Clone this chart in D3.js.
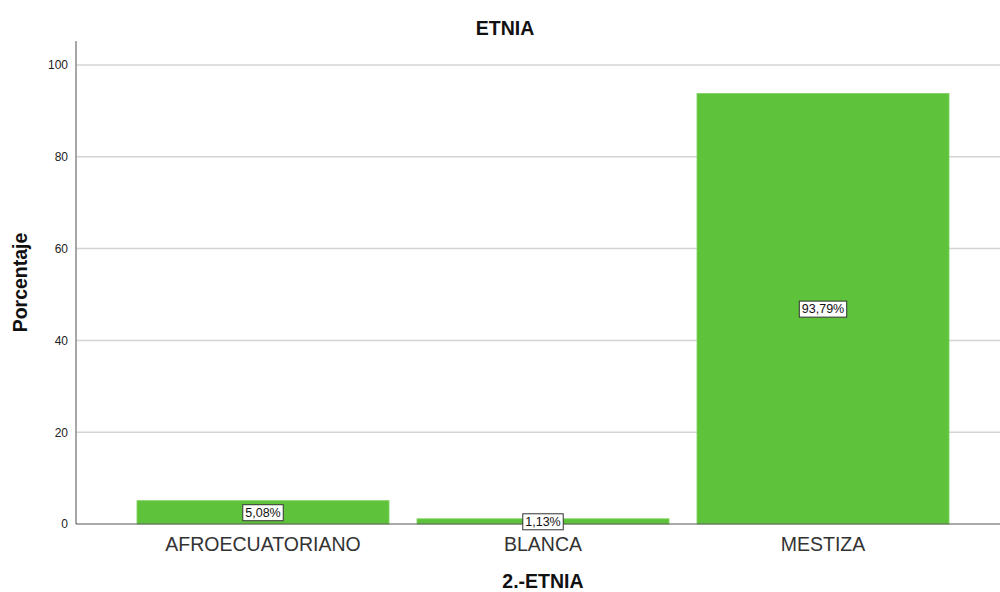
<!DOCTYPE html>
<html>
<head>
<meta charset="utf-8">
<script src="https://cdn.jsdelivr.net/npm/d3@7"></script>
<style>
  html, body { margin: 0; padding: 0; background: #fff; }
  svg { display: block; font-family: "Liberation Sans", Arial, sans-serif; }
</style>
</head>
<body>
<svg id="chart" width="1000" height="592"></svg>
<script>
// Ethnicity distribution (percent of respondents)
const categories = ["AFROECUATORIANO", "BLANCA", "MESTIZA"];
const percentages = [5.08, 1.13, 93.79];
const yTicks = [0, 20, 40, 60, 80, 100];

const svg = d3.select("#chart");
const axisLeft = 76, axisRight = 1000, baseY = 524, topY = 41;

const y = d3.scaleLinear().domain([0, 100]).range([baseY, 65]);
const x = d3.scaleBand()
  .domain(categories)
  .range([123, 963])
  .paddingInner(0.1)
  .paddingOuter(0.05);

// horizontal gridlines
svg.append("g")
  .selectAll("line")
  .data(yTicks.filter(t => t > 0))
  .join("line")
  .attr("x1", axisLeft).attr("x2", axisRight)
  .attr("y1", d => y(d)).attr("y2", d => y(d))
  .attr("stroke", "#d4d4d4")
  .attr("stroke-width", 1.5);

// bars
svg.append("g")
  .selectAll("rect")
  .data(categories.map((c, i) => ({ c, v: percentages[i] })))
  .join("rect")
  .attr("x", d => x(d.c))
  .attr("width", x.bandwidth())
  .attr("y", d => y(d.v))
  .attr("height", d => baseY - y(d.v))
  .attr("fill", "#5ec33a")
  .attr("stroke", "#7dd25e")
  .attr("stroke-width", 0.8);

// y axis
const yAxis = svg.append("g")
  .attr("transform", `translate(${axisLeft},0)`)
  .call(d3.axisLeft(y).tickValues(yTicks).tickSize(0).tickPadding(8).tickFormat(d3.format("d")));
yAxis.select(".domain").remove();
yAxis.selectAll("text")
  .attr("font-size", 12)
  .attr("font-family", "Liberation Sans, Arial, sans-serif")
  .attr("fill", "#222");

svg.append("line")
  .attr("x1", axisLeft).attr("x2", axisLeft)
  .attr("y1", topY).attr("y2", baseY)
  .attr("stroke", "#8a8a8a").attr("stroke-width", 1.5);

// x axis
const xAxis = svg.append("g")
  .attr("transform", `translate(0,${baseY})`)
  .call(d3.axisBottom(x).tickSize(0).tickPadding(13));
xAxis.select(".domain").remove();
xAxis.selectAll("text")
  .attr("font-size", 19.5)
  .attr("font-family", "Liberation Sans, Arial, sans-serif")
  .attr("fill", "#333");

svg.append("line")
  .attr("x1", axisLeft).attr("x2", axisRight)
  .attr("y1", baseY).attr("y2", baseY)
  .attr("stroke", "#555").attr("stroke-width", 1.2);

// value labels, centred at half the bar height
const fmt = v => d3.format(".2f")(v).replace(".", ",") + "%";
const labels = svg.append("g")
  .selectAll("g")
  .data(categories.map((c, i) => ({ c, v: percentages[i] })))
  .join("g")
  .attr("transform", d => `translate(${x(d.c) + x.bandwidth() / 2},${y(d.v / 2)})`);

labels.each(function (d) {
  const g = d3.select(this);
  const t = g.append("text")
    .attr("text-anchor", "middle")
    .attr("dy", "0.35em")
    .attr("font-size", 12.5)
    .attr("fill", "#111")
    .text(fmt(d.v));
  const bb = t.node().getBBox();
  g.insert("rect", "text")
    .attr("x", bb.x - 2.5)
    .attr("y", bb.y - 1)
    .attr("width", bb.width + 5)
    .attr("height", bb.height + 2)
    .attr("fill", "#fff")
    .attr("stroke", "#333")
    .attr("stroke-width", 1);
});

// titles
svg.append("text")
  .attr("x", 505).attr("y", 35)
  .attr("text-anchor", "middle")
  .attr("font-size", 19.5).attr("font-weight", "bold")
  .attr("fill", "#111")
  .text("ETNIA");

svg.append("text")
  .attr("x", (x.range()[0] + x.range()[1]) / 2).attr("y", 588)
  .attr("text-anchor", "middle")
  .attr("font-size", 19.5).attr("font-weight", "bold")
  .attr("fill", "#111")
  .text("2.-ETNIA");

svg.append("text")
  .attr("transform", `translate(27,${(topY + baseY) / 2}) rotate(-90)`)
  .attr("text-anchor", "middle")
  .attr("font-size", 19.5).attr("font-weight", "bold")
  .attr("fill", "#111")
  .text("Porcentaje");
</script>
</body>
</html>
